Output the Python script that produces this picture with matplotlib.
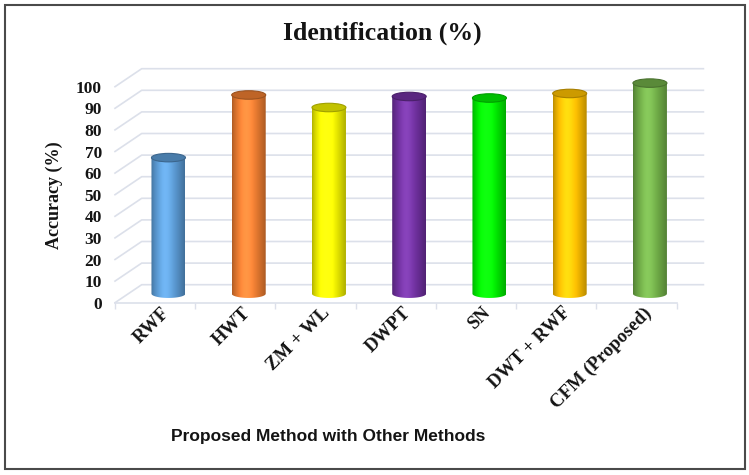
import matplotlib
matplotlib.use("Agg")
import matplotlib.pyplot as plt
import numpy as np
from matplotlib.patches import Ellipse, Polygon, Rectangle
from matplotlib.colors import to_rgb
from matplotlib.transforms import ScaledTranslation

categories = ["RWF", "HWT", "ZM + WL", "DWPT", "SN", "DWT + RWF", "CFM (Proposed)"]
accuracy = [63.0, 92.0, 86.2, 91.3, 90.6, 92.7, 97.5]
bar_colors = ["#5B9BD5", "#ED7D31", "#F2F200", "#7030A0", "#00EE00", "#FFC000", "#70AD47"]
y_ticks = [0, 10, 20, 30, 40, 50, 60, 70, 80, 90, 100]
title_text = "Identification (%)"
y_label = "Accuracy (%)"
x_label = "Proposed Method with Other Methods"

W, H = 749, 475
fig = plt.figure(figsize=(W / 100, H / 100), dpi=100)
fig.patch.set_facecolor("white")

serif = ["Liberation Serif", "DejaVu Serif"]
grid_col = "#DCE0EA"
txt_col = "#141414"

# geometry of the pseudo-3D chart (pixels)
left_px, right_px = 115.0, 676.7
y0_px, y100_px = 302.7, 86.7
n = len(categories)
px_x = (right_px - left_px) / n
px_y = (y0_px - y100_px) / 100.0
dx = 26.7 / px_x           # depth offset (category units)
dy = 18.0 / px_y           # depth offset (value units)
ymax = 112.0
xmax = n - 0.5 + dx + 0.05

ax_w = (xmax + 0.5) * px_x
ax_h = ymax * px_y
ax = fig.add_axes([left_px / W, 1 - y0_px / H, ax_w / W, ax_h / H])
ax.set_facecolor("none")
for s in ["top", "right", "left"]:
    ax.spines[s].set_visible(False)
ax.spines["bottom"].set_bounds(-0.5, n - 0.5)
ax.spines["bottom"].set_color(grid_col)
ax.spines["bottom"].set_linewidth(1.2)

# back wall gridlines with perspective diagonals
for v in y_ticks:
    ax.plot([-0.5, -0.5 + dx, n - 0.5 + dx], [v, v + dy, v + dy],
            color=grid_col, lw=1.2, zorder=0, clip_on=False)

# cylinders
xc = np.arange(n) + dx / 2
base = dy / 2
bw = 34.0 / px_x
ell_h = 8.5 / px_y
bars = ax.bar(xc, accuracy, width=bw, bottom=base, color=bar_colors,
              zorder=2, linewidth=0)

t = np.linspace(0, 1, 200)
s = np.sin(np.pi * t ** 0.8)
for bar, col in zip(bars, bar_colors):
    rgb = np.array(to_rgb(col))
    x0 = bar.get_x()
    w = bar.get_width()
    top = bar.get_y() + bar.get_height()
    cx = x0 + w / 2
    prof = np.clip(rgb[None, :] * (0.72 + 0.36 * s[:, None]) + 0.06 * (s[:, None] ** 6), 0, 1)
    img = prof[None, :, :]
    th = np.linspace(np.pi, 2 * np.pi, 60)
    arc = np.column_stack([cx + w / 2 * np.cos(th), base + ell_h / 2 * np.sin(th)])
    pts = np.vstack([[[x0, top]], arc, [[x0 + w, top]]])
    clip = Polygon(pts, closed=True, facecolor="none", edgecolor="none")
    ax.add_patch(clip)
    im = ax.imshow(img, extent=[x0, x0 + w, base - ell_h / 2, top], aspect="auto",
                   zorder=3, interpolation="bilinear")
    im.set_clip_path(clip)
    capc = np.clip(rgb * 0.80, 0, 1)
    ax.add_patch(Ellipse((cx, top), w, ell_h, angle=0, facecolor=capc,
                         edgecolor=np.clip(rgb * 0.66, 0, 1), lw=0.8, zorder=4))
    bar.set_visible(False)

ax.set_xlim(-0.5, xmax)
ax.set_ylim(0, ymax)

# ticks
ax.set_yticks(y_ticks)
ax.set_yticklabels([str(v) for v in y_ticks], fontfamily=serif, fontweight="bold",
                   fontsize=12.5, color=txt_col)
ax.tick_params(axis="y", length=0, pad=9.5)
ax.set_xticks(np.arange(n))
ax.set_xticklabels(categories, rotation=45, ha="right", rotation_mode="anchor",
                   fontfamily=serif, fontweight="bold", fontsize=13.5, color=txt_col)
ax.tick_params(axis="x", which="major", length=0, pad=1)
for lbl in ax.get_xticklabels():
    lbl.set_transform(lbl.get_transform() + ScaledTranslation(6 / 100, 0, fig.dpi_scale_trans))
ax.set_xticks(np.arange(-0.5, n, 1.0), minor=True)
ax.tick_params(axis="x", which="minor", length=4, color=grid_col, width=1.0, direction="out")

ax.set_ylabel(y_label, fontfamily=serif, fontweight="bold", fontsize=13, color=txt_col)
ax.yaxis.set_label_coords((63 - left_px) / ax_w, (y0_px - 195) / ax_h)

fig.text(382 / W, 1 - 33 / H, title_text, ha="center", va="center",
         fontfamily=serif, fontweight="bold", fontsize=18.5, color=txt_col)
fig.text(328 / W, 1 - 436 / H, x_label, ha="center", va="center",
         fontfamily=["Liberation Sans", "DejaVu Sans"], fontweight="bold", fontsize=12.5,
         color=txt_col)

fig.add_artist(Rectangle((5 / W, 1 - 469 / H), 740 / W, 464 / H, transform=fig.transFigure,
                         facecolor="none", edgecolor="#4a4a4a", lw=1.5))

fig.savefig("out.png", dpi=100, facecolor="white")
